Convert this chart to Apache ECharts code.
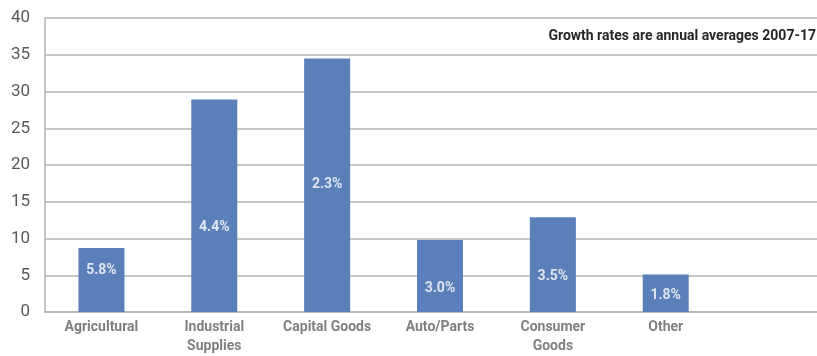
<!DOCTYPE html>
<html>
<head>
<meta charset="utf-8">
<script src="https://cdn.jsdelivr.net/npm/echarts@6/dist/echarts.min.js"></script>
<style>html,body{margin:0;padding:0;background:#fff;overflow:hidden;}#c{width:835px;height:356px;}</style>
</head>
<body>
<div id="c"></div>
<script>
const categories = ['Agricultural', 'Industrial\nSupplies', 'Capital Goods', 'Auto/Parts', 'Consumer\nGoods', 'Other', ''];
const values = [8.7, 28.9, 34.5, 9.8, 12.9, 5.1, '-'];
const growthLabels = ['5.8%', '4.4%', '2.3%', '3.0%', '3.5%', '1.8%', ''];
const labelHeights = [5.6, 11.5, 17.4, 3.2, 4.8, 2.2, '-'];
const yTicks = { min: 0, max: 40, interval: 5 };
const note = 'Growth rates are annual averages 2007-17';

const chart = echarts.init(document.getElementById('c'), null, { renderer: 'canvas' });
const labelData = labelHeights.map((v, i) => ({ value: v, label: { formatter: growthLabels[i] } }));
chart.setOption({
  animation: false,
  grid: { left: 45, right: 0, top: 18, height: 296, containLabel: false },
  xAxis: {
    type: 'category',
    data: categories,
    axisLine: { lineStyle: { color: '#b3b3b3', width: 1.5 } },
    axisTick: { show: false },
    axisLabel: { color: '#7f7f7f', fontFamily: 'Roboto', fontWeight: 'bold', fontSize: 14, lineHeight: 19, margin: 6, interval: 0 }
  },
  yAxis: {
    type: 'value',
    min: yTicks.min, max: yTicks.max, interval: yTicks.interval,
    axisLine: { show: true, lineStyle: { color: '#b3b3b3', width: 1.5 } },
    axisTick: { show: false },
    splitLine: { lineStyle: { color: '#b3b3b3', width: 1.5 } },
    axisLabel: { color: '#595959', fontFamily: 'Roboto', fontSize: 17, margin: 15 }
  },
  series: [
    {
      type: 'bar',
      data: values,
      barWidth: 46,
      itemStyle: { color: '#5b7fb8' }
    },
    {
      type: 'scatter',
      data: labelData,
      symbolSize: 0,
      silent: true,
      label: { show: true, position: 'inside', color: '#ffffff', fontFamily: 'Roboto', fontWeight: 'bold', fontSize: 14 }
    }
  ],
  graphic: [{
    type: 'text',
    right: 19,
    top: 29,
    style: { text: note, fill: '#262626', font: 'bold 14px Roboto' }
  }]
});
</script>
</body>
</html>
